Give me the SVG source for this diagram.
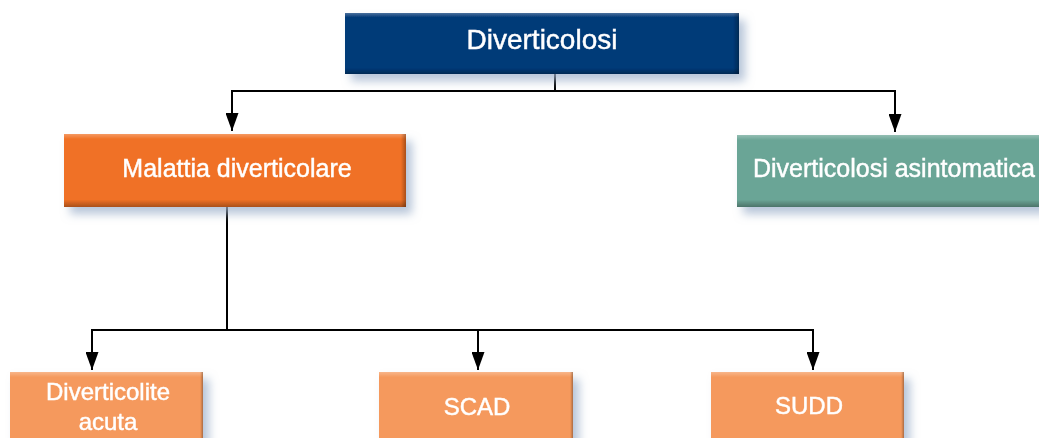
<svg xmlns="http://www.w3.org/2000/svg" width="1039" height="438" viewBox="0 0 1039 438">
<style>
.lbl{font-family:"Liberation Sans",Arial,sans-serif;fill:#ffffff;stroke:#ffffff;stroke-width:0.45;text-anchor:middle}
.conn{fill:none;stroke:#000;stroke-width:2}
</style>
<defs>
<filter id="sh" x="-10%" y="-20%" width="125%" height="160%">
<feGaussianBlur in="SourceAlpha" stdDeviation="5"/>
<feOffset dx="6" dy="7" result="b"/>
<feFlood flood-color="#9fb2cc" flood-opacity="0.75"/>
<feComposite in2="b" operator="in"/>
<feMerge><feMergeNode/><feMergeNode in="SourceGraphic"/></feMerge>
</filter>
<linearGradient id="bv" x1="0" y1="0" x2="0" y2="1">
<stop offset="0" stop-color="#fff" stop-opacity="0.28"/>
<stop offset="0.07" stop-color="#fff" stop-opacity="0.0"/>
<stop offset="0.9" stop-color="#000" stop-opacity="0"/>
<stop offset="1" stop-color="#000" stop-opacity="0.3"/>
</linearGradient>
<linearGradient id="bh" x1="0" y1="0" x2="1" y2="0">
<stop offset="0" stop-color="#000" stop-opacity="0"/>
<stop offset="0.985" stop-color="#000" stop-opacity="0"/>
<stop offset="1" stop-color="#000" stop-opacity="0.3"/>
</linearGradient>
<marker id="ah" markerUnits="userSpaceOnUse" markerWidth="18" markerHeight="13" refX="18" refY="6.5" viewBox="0 0 18 13" orient="auto">
<path d="M0,0 L18,6.5 L0,13 Z" fill="#000"/>
</marker>
</defs>

<g id="connectors">
<path class="conn" d="M555,74 V91 H232 V131" marker-end="url(#ah)"/>
<path class="conn" d="M555,91 H895 V132" marker-end="url(#ah)"/>
<path class="conn" d="M227,207 V330 H92 V370" marker-end="url(#ah)"/>
<path class="conn" d="M227,330 H478 V370" marker-end="url(#ah)"/>
<path class="conn" d="M478,330 H813 V370" marker-end="url(#ah)"/>
</g>

<g id="n-diverticolosi" filter="url(#sh)">
<rect x="345" y="13" width="394" height="61" fill="#053a78"/>
<rect x="345" y="13" width="394" height="61" fill="url(#bv)"/>
<rect x="345" y="13" width="394" height="61" fill="url(#bh)"/>
<text class="lbl" x="542" y="49" font-size="28">Diverticolosi</text>
</g>

<g id="n-malattia" filter="url(#sh)">
<rect x="64" y="134" width="342" height="73" fill="#f07125"/>
<rect x="64" y="134" width="342" height="73" fill="url(#bv)"/>
<rect x="64" y="134" width="342" height="73" fill="url(#bh)"/>
<text class="lbl" x="237" y="177" font-size="25">Malattia diverticolare</text>
</g>

<g id="n-asintomatica" filter="url(#sh)">
<rect x="737" y="135" width="320" height="72" fill="#6ba596"/>
<rect x="737" y="135" width="320" height="72" fill="url(#bv)"/>
<text class="lbl" x="894" y="177" font-size="25">Diverticolosi asintomatica</text>
</g>

<g id="n-diverticolite" filter="url(#sh)">
<rect x="10" y="372" width="193" height="74" fill="#f5995d"/>
<rect x="10" y="372" width="193" height="74" fill="url(#bv)"/>
<rect x="10" y="372" width="193" height="74" fill="url(#bh)"/>
<text class="lbl" x="108" y="400" font-size="24">Diverticolite</text>
<text class="lbl" x="108" y="430" font-size="24">acuta</text>
</g>

<g id="n-scad" filter="url(#sh)">
<rect x="379" y="372" width="194" height="74" fill="#f5995d"/>
<rect x="379" y="372" width="194" height="74" fill="url(#bv)"/>
<rect x="379" y="372" width="194" height="74" fill="url(#bh)"/>
<text class="lbl" x="477" y="415" font-size="24">SCAD</text>
</g>

<g id="n-sudd" filter="url(#sh)">
<rect x="711" y="372" width="193" height="74" fill="#f5995d"/>
<rect x="711" y="372" width="193" height="74" fill="url(#bv)"/>
<rect x="711" y="372" width="193" height="74" fill="url(#bh)"/>
<text class="lbl" x="809" y="414" font-size="24">SUDD</text>
</g>
</svg>
